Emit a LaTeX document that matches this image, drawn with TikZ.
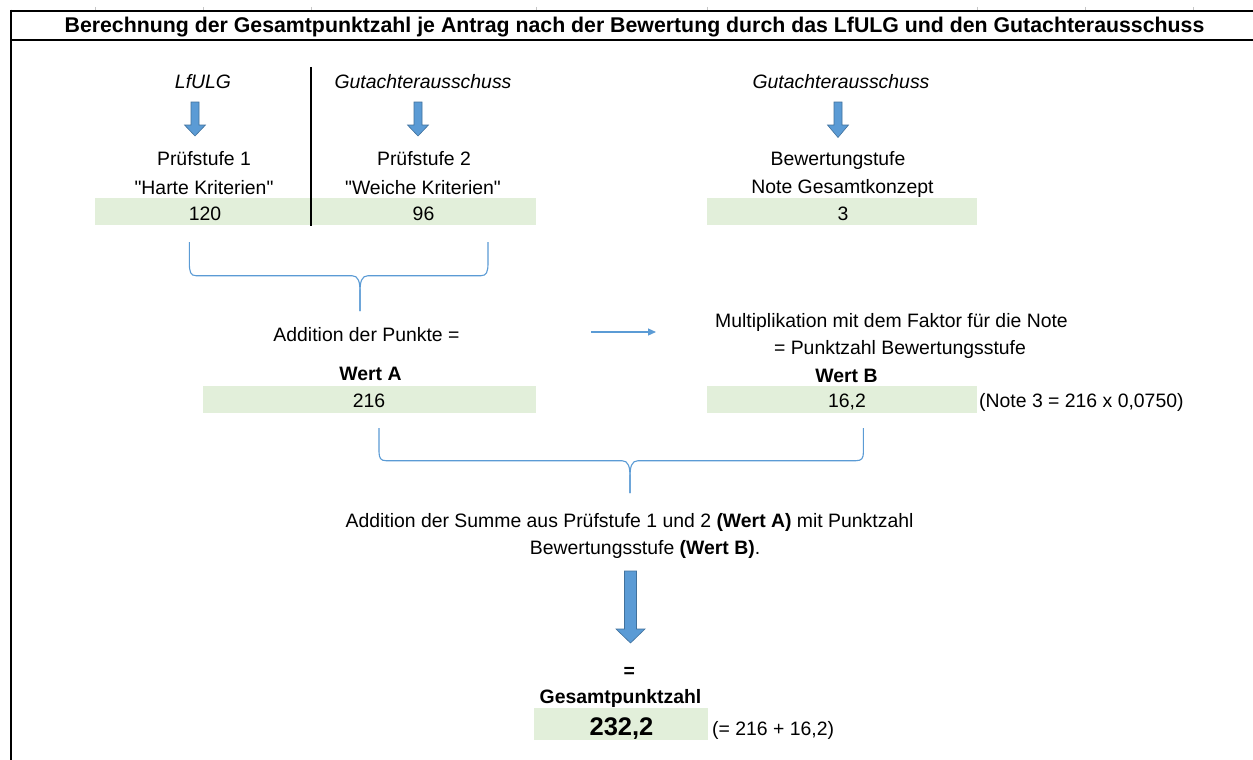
\documentclass[tikz,border=0pt]{standalone}
\usepackage{fontspec}
\setmainfont{Liberation Sans}
\usetikzlibrary{arrows.meta}
\definecolor{cellgreen}{HTML}{E2EFDA}
\definecolor{arrowblue}{HTML}{5B9BD5}
\definecolor{arrowedge}{HTML}{41719C}
\newcommand{\fsnorm}{\fontsize{19.4}{23}\selectfont}
\newcommand{\fstitle}{\fontsize{21.3}{25}\selectfont}
\newcommand{\fsbig}{\fontsize{25.5}{30}\selectfont}
\newcommand{\dq}{\XeTeXglyph\XeTeXcharglyph"22\relax}
\tikzset{
  txt/.style={inner sep=0pt, text height=13.9pt, text depth=0pt, font=\fsnorm},
  txtb/.style={txt, font=\fsnorm\bfseries},
  txti/.style={txt, font=\fsnorm\itshape},
  greenbar/.style={fill=cellgreen, draw=none},
  blockarrow/.style={fill=arrowblue, draw=arrowedge, line width=0.6pt, line join=miter},
  bracestyle/.style={draw=arrowblue, line width=1.1pt},
  gridtick/.style={draw=gray!45, line width=1pt},
  frame/.style={draw=black, line width=2pt}
}
\begin{document}
\begin{tikzpicture}[x=1pt, y=-1pt]
\useasboundingbox (0,0) rectangle (1253,760);
\fill[white] (0,0) rectangle (1253,760);

% grid ticks and frame
\foreach \x in {95,203,311,536,707,977,1085,1193}
  \draw[gridtick] (\x,7) -- (\x,10);
\draw[frame] (11,10.7) -- (1253,10.7);
\draw[frame, line width=2.4pt] (11,40) -- (1253,40);
\draw[frame] (11,9.7) -- (11,760);

\node[inner sep=0pt, text height=15.2pt, text depth=0pt, font=\fstitle\bfseries] (title) at (634.5,25) {Berechnung der Gesamtpunktzahl je Antrag nach der Bewertung durch das LfULG und den Gutachterausschuss};

% green cells
\fill[greenbar] (95,198) rectangle (536,225);
\fill[greenbar] (707,198) rectangle (977,225);
\fill[greenbar] (203,386) rectangle (536,413);
\fill[greenbar] (707,386) rectangle (977,413);
\fill[greenbar] (534,708) rectangle (708,740);

% separator line
\draw[line width=1.5pt] (311,67) -- (311,226);

% top headers
\node[txti] (lfulg) at (203,82) {LfULG};
\node[txti] (gut1) at (423,82) {Gutachterausschuss};
\node[txti] (gut2) at (841,82) {Gutachterausschuss};

% small block arrows
\foreach \x/\t in {195/136,418/136,838/137.5}
  \draw[blockarrow, shift={(\x,0)}] (-4,102) -- (4,102) -- (4,125) -- (10.5,125) -- (0,\t) -- (-10.5,125) -- (-4,125) -- cycle;

\node[txt] (p1) at (204,159) {Prüfstufe 1};
\node[txt] (p1b) at (204,187.3) {\dq Harte Kriterien\dq};
\node[txt] (v1) at (205,213.7) {120};
\node[txt] (p2) at (424,159) {Prüfstufe 2};
\node[txt] (p2b) at (423,187.3) {\dq Weiche Kriterien\dq};
\node[txt] (v2) at (423.5,213.7) {96};
\node[txt] (bw) at (838,158.7) {Bewertungstufe};
\node[txt] (bwb) at (842.5,187) {Note Gesamtkonzept};
\node[txt] (v3) at (843,213.7) {3};

% brace 1
\coordinate (b1l) at (189.3,242);
\coordinate (b1r) at (488,242);
\coordinate (b1t) at (360,311);
\draw[bracestyle] (b1l) -- (189.3,263) .. controls (189.5,272) and (190.5,275.7) .. (196,275.7)
  -- (352,275.7) .. controls (358.5,275.7) and (360,282) .. (360,292) -- (b1t);
\draw[bracestyle] (b1t) -- (360,292) .. controls (360,282) and (361.5,275.7) .. (368,275.7)
  -- (481,275.7) .. controls (486.5,275.7) and (488,272) .. (488,263) -- (b1r);

\node[txt] (addA) at (366.5,334.2) {Addition der Punkte =};
\node[txtb] (wertA) at (370.5,373.3) {Wert A};
\node[txt] (vA) at (369,400.5) {216};

% thin arrow
\coordinate (arrS) at (591,332);
\coordinate (arrE) at (656,332);
\draw[draw=arrowblue, line width=1.2pt, -{Triangle[length=8pt,width=7pt]}] (arrS) -- (arrE);

\node[txt] (mult) at (891.5,320.3) {Multiplikation mit dem Faktor für die Note};
\node[txt] (mult2) at (900,347.8) {= Punktzahl Bewertungsstufe};
\node[txtb] (wertB) at (846.5,375.5) {Wert B};
\node[txt] (vB) at (847,400.5) {16,2};
\node[txt, anchor=west] (noteB) at (979,400.5) {(Note 3 = 216 x 0,0750)};

% brace 2
\coordinate (b2l) at (379,428);
\coordinate (b2r) at (863.4,428);
\coordinate (b2t) at (630,493);
\draw[bracestyle] (b2l) -- (379,452) .. controls (379.2,458) and (380.5,460.7) .. (386,460.7)
  -- (622,460.7) .. controls (628.5,460.7) and (630,467) .. (630,477) -- (b2t);
\draw[bracestyle] (b2t) -- (630,477) .. controls (630,467) and (631.5,460.7) .. (638,460.7)
  -- (856,460.7) .. controls (862,460.7) and (863.4,458) .. (863.4,452) -- (b2r);

\node[txt] (sum1) at (629.5,520.3) {Addition der Summe aus Prüfstufe 1 und 2 \textbf{(Wert A)} mit Punktzahl};
\node[txt] (sum2) at (645,547.8) {Bewertungsstufe \textbf{(Wert B)}.};

% big block arrow
\draw[blockarrow] (624.5,571) -- (636.5,571) -- (636.5,629) -- (645,629) -- (630.5,643) -- (616,629) -- (624.5,629) -- cycle;

\node[txtb] (eq) at (629.3,670.3) {=};
\node[txtb] (gesamt) at (620.5,696.7) {Gesamtpunktzahl};
\node[inner sep=0pt, text height=18.3pt, text depth=0pt, font=\fsbig\bfseries] (total) at (621.5,726.2) {232,2};
\node[txt, anchor=west] (totalnote) at (712,728.8) {(= 216 + 16,2)};
\end{tikzpicture}
\end{document}
